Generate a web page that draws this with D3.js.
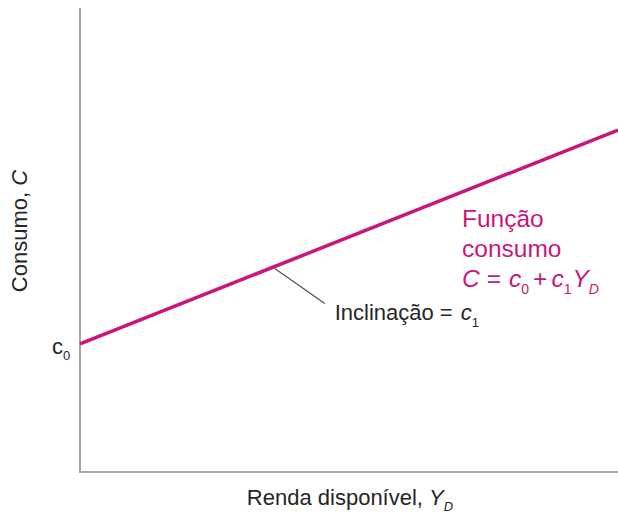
<!DOCTYPE html>
<html>
<head>
<meta charset="utf-8">
<script src="https://cdn.jsdelivr.net/npm/d3@7"></script>
<style>
  body { margin: 0; background: #fff; }
  svg text { font-family: "Liberation Sans", Arial, sans-serif; }
</style>
</head>
<body>
<div id="chart"></div>
<script>
// valores do gráfico (conceitual)
const rendaDisponivel = [0, 100];
const consumo = [27.6, 73.7];
const inclinacaoPonto = 36.2; // ponto onde sai a linha de chamada

const width = 618, height = 514;
const margin = { left: 80, right: 0, top: 8, bottom: 42 };
const magenta = '#c8167c';
const axisColor = '#a6a6a6';
const textColor = '#262626';

const svg = d3.select('#chart').append('svg')
  .attr('width', width)
  .attr('height', height);

const x = d3.scaleLinear().domain([0, 100]).range([margin.left, width - margin.right]);
const y = d3.scaleLinear().domain([0, 100]).range([height - margin.bottom, margin.top]);

// eixos
svg.append('line')
  .attr('x1', x(0)).attr('x2', x(0))
  .attr('y1', y(100)).attr('y2', y(0))
  .attr('stroke', axisColor).attr('stroke-width', 2);
svg.append('line')
  .attr('x1', x(0) - 1).attr('x2', x(100))
  .attr('y1', y(0)).attr('y2', y(0))
  .attr('stroke', axisColor).attr('stroke-width', 2);

// função consumo
const pts = rendaDisponivel.map((d, i) => [d, consumo[i]]);
svg.append('path')
  .datum(pts)
  .attr('fill', 'none')
  .attr('stroke', magenta)
  .attr('stroke-width', 3.5)
  .attr('d', d3.line().x(d => x(d[0])).y(d => y(d[1])));

// linha de chamada da inclinação
const c1 = (consumo[1] - consumo[0]) / (rendaDisponivel[1] - rendaDisponivel[0]);
const px = x(inclinacaoPonto), py = y(consumo[0] + c1 * inclinacaoPonto);
svg.append('line')
  .attr('x1', px).attr('y1', py + 2)
  .attr('x2', px + 50).attr('y2', py + 37)
  .attr('stroke', '#555').attr('stroke-width', 1.3);

const inc = svg.append('text')
  .attr('x', px + 60).attr('y', py + 53)
  .attr('font-size', 22).attr('fill', textColor);
inc.append('tspan').text('Inclinação');
inc.append('tspan').attr('dx', 6).text('=');
inc.append('tspan').attr('dx', 8).attr('font-style', 'italic').text('c');
inc.append('tspan').attr('font-size', 13).attr('dy', 7).text('1');

// c0
const c0 = svg.append('text')
  .attr('x', x(0) - 28).attr('y', y(consumo[0]) + 10)
  .attr('font-size', 22).attr('fill', textColor);
c0.append('tspan').text('c');
c0.append('tspan').attr('font-size', 13).attr('dy', 6).text('0');

// anotação da função
const ax = 462;
svg.append('text').attr('x', ax).attr('y', 227)
  .attr('font-size', 24.5).attr('fill', magenta).text('Função');
svg.append('text').attr('x', ax).attr('y', 257)
  .attr('font-size', 24.5).attr('fill', magenta).text('consumo');
const f = svg.append('text').attr('x', ax).attr('y', 287)
  .attr('font-size', 24.5).attr('fill', magenta);
f.append('tspan').attr('font-style', 'italic').text('C');
f.append('tspan').attr('dx', 7).text('=');
f.append('tspan').attr('dx', 8).attr('font-style', 'italic').text('c');
f.append('tspan').attr('font-size', 14).attr('dy', 7).text('0');
f.append('tspan').attr('dy', -7).attr('dx', 4).text('+');
f.append('tspan').attr('dx', 4).attr('font-style', 'italic').text('c');
f.append('tspan').attr('font-size', 14).attr('dy', 7).text('1');
f.append('tspan').attr('dy', -7).attr('dx', 1).attr('font-style', 'italic').text('Y');
f.append('tspan').attr('font-size', 14).attr('dy', 7).attr('font-style', 'italic').text('D');

// rótulos dos eixos
const xl = svg.append('text')
  .attr('x', 350).attr('y', 505)
  .attr('text-anchor', 'middle')
  .attr('font-size', 22).attr('fill', textColor);
xl.append('tspan').text('Renda disponível, ');
xl.append('tspan').attr('font-style', 'italic').text('Y');
xl.append('tspan').attr('font-size', 13).attr('dy', 6).attr('font-style', 'italic').text('D');

const yl = svg.append('text')
  .attr('transform', 'translate(27,231) rotate(-90)')
  .attr('text-anchor', 'middle')
  .attr('font-size', 22).attr('fill', textColor);
yl.append('tspan').text('Consumo, ');
yl.append('tspan').attr('font-style', 'italic').text('C');
</script>
</body>
</html>
